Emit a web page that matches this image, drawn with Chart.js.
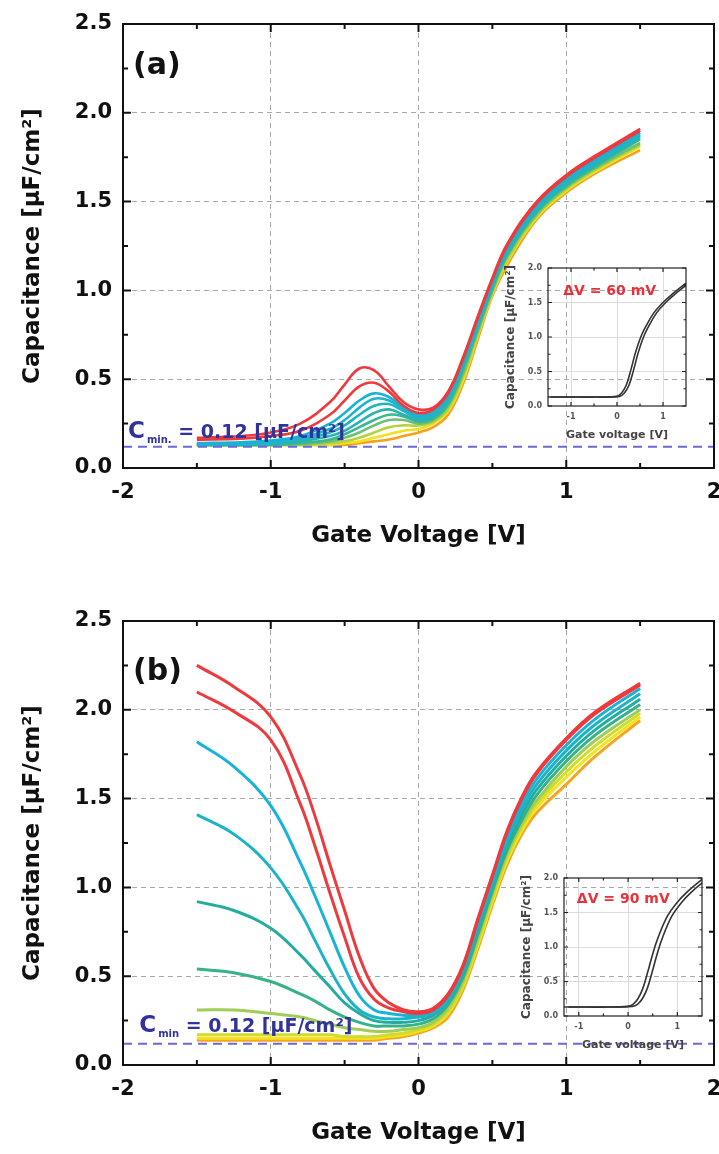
<!DOCTYPE html>
<html>
<head>
<meta charset="utf-8">
<script src="https://cdn.jsdelivr.net/npm/chart.js@4.4.1/dist/chart.umd.min.js"></script>
<style>
  html, body { margin: 0; padding: 0; background: #fff; }
  #wrap { position: relative; width: 719px; height: 1154px; overflow: hidden; background: #fff; }
  #wrap canvas { position: absolute; }
</style>
</head>
<body>
<div id="wrap">
  <canvas id="mainA" style="left:0px;top:0px" width="719" height="560"></canvas>
  <canvas id="insetA" style="left:500px;top:262px" width="195" height="190"></canvas>
  <canvas id="mainB" style="left:0px;top:597px" width="719" height="560"></canvas>
  <canvas id="insetB" style="left:516px;top:872px" width="195" height="190"></canvas>
</div>
<script>
// ── axis ticks ────────────────────────────────────────────────────────────────
const mainXTicks  = [-2, -1, 0, 1, 2];
const mainXMinor  = [-1.5, -0.5, 0.5, 1.5];
const mainYTicks  = [0, 0.5, 1.0, 1.5, 2.0, 2.5];
const mainYMinor  = [0.25, 0.75, 1.25, 1.75, 2.25];
const insetXTicks = [-1, 0, 1];
const insetXMinor = [-0.5, 0.5];
const insetYTicks = [0, 0.5, 1.0, 1.5, 2.0];
const insetYMinor = [0.25, 0.75, 1.25, 1.75];

// minimum capacitance marker [uF/cm2]
const cMin = 0.12;

// ── panel (a): gate sweep and C-V curves, top (red) to bottom (orange) ────────
const voltsA = [-1.5, -1.2, -1.0, -0.8, -0.6, -0.5, -0.4, -0.3, -0.2, -0.1, 0, 0.1, 0.2, 0.3, 0.4, 0.5, 0.6, 0.8, 1.0, 1.2, 1.5];
const capA1  = [0.17, 0.18, 0.20, 0.25, 0.37, 0.47, 0.56, 0.55, 0.46, 0.37, 0.33, 0.34, 0.43, 0.62, 0.85, 1.07, 1.26, 1.50, 1.65, 1.76, 1.91];
const capA2  = [0.16, 0.165, 0.18, 0.21, 0.30, 0.38, 0.46, 0.48, 0.43, 0.35, 0.31, 0.33, 0.42, 0.61, 0.84, 1.06, 1.25, 1.49, 1.64, 1.75, 1.90];
const capA3  = [0.14, 0.145, 0.155, 0.18, 0.25, 0.31, 0.38, 0.42, 0.40, 0.34, 0.30, 0.32, 0.41, 0.60, 0.83, 1.05, 1.24, 1.48, 1.63, 1.74, 1.89];
const capA4  = [0.135, 0.14, 0.15, 0.17, 0.22, 0.27, 0.34, 0.39, 0.38, 0.33, 0.29, 0.31, 0.40, 0.59, 0.82, 1.04, 1.23, 1.47, 1.62, 1.73, 1.88];
const capA5  = [0.13, 0.135, 0.14, 0.16, 0.20, 0.24, 0.30, 0.35, 0.36, 0.32, 0.28, 0.30, 0.39, 0.58, 0.81, 1.03, 1.22, 1.46, 1.61, 1.72, 1.87];
const capA6  = [0.13, 0.13, 0.135, 0.15, 0.18, 0.21, 0.26, 0.31, 0.33, 0.30, 0.27, 0.29, 0.38, 0.57, 0.80, 1.02, 1.21, 1.45, 1.60, 1.71, 1.86];
const capA7  = [0.13, 0.13, 0.13, 0.14, 0.16, 0.19, 0.23, 0.27, 0.30, 0.29, 0.26, 0.28, 0.36, 0.55, 0.78, 1.01, 1.20, 1.44, 1.59, 1.70, 1.85];
const capA8  = [0.13, 0.13, 0.13, 0.135, 0.15, 0.17, 0.20, 0.24, 0.27, 0.27, 0.25, 0.27, 0.35, 0.53, 0.77, 1.00, 1.19, 1.43, 1.58, 1.69, 1.83];
const capA9  = [0.13, 0.13, 0.13, 0.13, 0.14, 0.15, 0.17, 0.20, 0.23, 0.24, 0.24, 0.26, 0.33, 0.51, 0.75, 0.99, 1.17, 1.42, 1.57, 1.68, 1.82];
const capA10 = [0.13, 0.13, 0.13, 0.13, 0.13, 0.14, 0.15, 0.17, 0.19, 0.21, 0.22, 0.25, 0.32, 0.49, 0.74, 0.98, 1.16, 1.41, 1.56, 1.67, 1.81];
const capA11 = [0.13, 0.13, 0.13, 0.13, 0.13, 0.13, 0.14, 0.15, 0.16, 0.18, 0.20, 0.23, 0.30, 0.47, 0.72, 0.97, 1.14, 1.40, 1.55, 1.66, 1.79];
const colorsA = ['#ee3a3c', '#ee3a3c', '#17b2d8', '#1bb4cf', '#21b5c4', '#29b3b0', '#3ab795', '#6cc072', '#b3d33c', '#f2e21c', '#f6a020'];

// ── panel (b) ─────────────────────────────────────────────────────────────────
const voltsB = [-1.5, -1.25, -1.0, -0.8, -0.7, -0.6, -0.5, -0.4, -0.3, -0.2, -0.1, 0, 0.1, 0.2, 0.3, 0.4, 0.5, 0.6, 0.7, 0.8, 1.0, 1.2, 1.5];
const capB1  = [2.25, 2.13, 1.96, 1.63, 1.40, 1.13, 0.87, 0.61, 0.43, 0.35, 0.31, 0.30, 0.32, 0.40, 0.56, 0.82, 1.07, 1.32, 1.51, 1.65, 1.84, 1.99, 2.15];
const capB2  = [2.10, 1.99, 1.83, 1.47, 1.23, 0.97, 0.72, 0.49, 0.37, 0.32, 0.30, 0.29, 0.31, 0.39, 0.55, 0.81, 1.06, 1.31, 1.50, 1.64, 1.83, 1.98, 2.14];
const capB3  = [1.82, 1.68, 1.46, 1.14, 0.95, 0.75, 0.55, 0.39, 0.31, 0.29, 0.28, 0.28, 0.30, 0.38, 0.54, 0.79, 1.04, 1.28, 1.47, 1.61, 1.80, 1.95, 2.12];
const capB4  = [1.41, 1.30, 1.11, 0.86, 0.70, 0.54, 0.40, 0.31, 0.27, 0.26, 0.26, 0.27, 0.29, 0.37, 0.53, 0.78, 1.02, 1.26, 1.44, 1.58, 1.77, 1.92, 2.09];
const capB5  = [0.92, 0.87, 0.77, 0.62, 0.53, 0.44, 0.35, 0.29, 0.25, 0.24, 0.24, 0.25, 0.28, 0.36, 0.51, 0.76, 1.00, 1.23, 1.41, 1.55, 1.74, 1.89, 2.06];
const capB6  = [0.54, 0.52, 0.47, 0.40, 0.36, 0.31, 0.27, 0.24, 0.22, 0.22, 0.22, 0.23, 0.26, 0.34, 0.49, 0.73, 0.98, 1.21, 1.38, 1.52, 1.71, 1.86, 2.03];
const capB7  = [0.31, 0.31, 0.29, 0.27, 0.25, 0.23, 0.21, 0.20, 0.19, 0.19, 0.20, 0.21, 0.24, 0.32, 0.47, 0.71, 0.96, 1.19, 1.36, 1.49, 1.68, 1.83, 2.00];
const capB8  = [0.17, 0.17, 0.17, 0.17, 0.17, 0.17, 0.16, 0.16, 0.16, 0.17, 0.18, 0.20, 0.23, 0.30, 0.45, 0.69, 0.94, 1.17, 1.34, 1.47, 1.65, 1.80, 1.98];
const capB9  = [0.15, 0.15, 0.15, 0.15, 0.15, 0.15, 0.15, 0.15, 0.15, 0.16, 0.17, 0.19, 0.22, 0.29, 0.44, 0.67, 0.92, 1.15, 1.32, 1.45, 1.62, 1.77, 1.96];
const capB10 = [0.14, 0.14, 0.14, 0.14, 0.14, 0.14, 0.14, 0.14, 0.14, 0.15, 0.16, 0.18, 0.21, 0.27, 0.42, 0.65, 0.90, 1.13, 1.30, 1.42, 1.58, 1.74, 1.94];
const colorsB = ['#ee3a3c', '#ee3a3c', '#18b3d8', '#1db3c6', '#24ad9f', '#36b28b', '#9fcd55', '#cfdc2e', '#f4e31a', '#f6a523'];

// ── insets: forward / reverse sweeps, shifted by the hysteresis ───────────────
const insetVoltsA1 = [-1.5, -1.0, -0.5, 0, 0.1, 0.2, 0.3, 0.4, 0.5, 0.6, 0.8, 1.0, 1.2, 1.5];
const insetVoltsA2 = [-1.44, -0.94, -0.44, 0.06, 0.16, 0.26, 0.36, 0.46, 0.56, 0.66, 0.86, 1.06, 1.26, 1.56];
const insetCapA    = [0.13, 0.13, 0.13, 0.14, 0.19, 0.30, 0.52, 0.77, 0.97, 1.12, 1.35, 1.50, 1.62, 1.78];
const insetVoltsB1 = [-1.3, -1.0, -0.5, 0, 0.1, 0.2, 0.3, 0.4, 0.5, 0.6, 0.8, 1.0, 1.2, 1.5];
const insetVoltsB2 = [-1.21, -0.91, -0.41, 0.09, 0.19, 0.29, 0.39, 0.49, 0.59, 0.69, 0.89, 1.09, 1.29, 1.59];
const insetCapB    = [0.13, 0.13, 0.13, 0.14, 0.17, 0.25, 0.40, 0.64, 0.90, 1.12, 1.45, 1.65, 1.80, 1.98];

const FONT = 'DejaVu Sans';
const INK = '#111';

// frame box with inward major/minor ticks on all four sides
const frameTicks = {
  id: 'frameTicks',
  afterDatasetsDraw(chart, args, opts) {
    const { ctx, chartArea: a, scales: { x, y } } = chart;
    ctx.save();
    ctx.strokeStyle = opts.color;
    ctx.lineWidth = opts.width;
    ctx.beginPath();
    const tickX = (v, len) => {
      const px = x.getPixelForValue(v);
      ctx.moveTo(px, a.bottom); ctx.lineTo(px, a.bottom - len);
      ctx.moveTo(px, a.top);    ctx.lineTo(px, a.top + len);
    };
    const tickY = (v, len) => {
      const py = y.getPixelForValue(v);
      ctx.moveTo(a.left, py);  ctx.lineTo(a.left + len, py);
      ctx.moveTo(a.right, py); ctx.lineTo(a.right - len, py);
    };
    x.ticks.forEach(t => tickX(t.value, opts.major));
    opts.xMinor.forEach(v => tickX(v, opts.minor));
    y.ticks.forEach(t => tickY(t.value, opts.major));
    opts.yMinor.forEach(v => tickY(v, opts.minor));
    ctx.stroke();
    ctx.strokeRect(a.left, a.top, a.width, a.height);
    ctx.restore();
  }
};

function series(volts, caps, color, width) {
  return {
    data: volts.map((v, i) => ({ x: v, y: caps[i] })),
    borderColor: color,
    borderWidth: width,
    pointRadius: 0,
    showLine: true,
    tension: 0.4,
    fill: false
  };
}

// hide grid lines that would sit on the frame
const innerGrid = (min, max, color) => ctx =>
  (ctx.tick && (ctx.tick.value === min || ctx.tick.value === max)) ? 'rgba(0,0,0,0)' : color;

function drawCminNote(chart, vx, vy, sub) {
  const { ctx, scales: { x, y } } = chart;
  let px = x.getPixelForValue(vx);
  const py = y.getPixelForValue(vy);
  ctx.save();
  ctx.fillStyle = '#32329c';
  ctx.textBaseline = 'alphabetic';
  ctx.font = `bold 23px "${FONT}"`;
  ctx.fillText('C', px, py);
  px += ctx.measureText('C').width + 2;
  ctx.font = `bold 10px "${FONT}"`;
  ctx.fillText(sub, px, py + 5);
  px += ctx.measureText(sub).width;
  ctx.font = `bold 19px "${FONT}"`;
  ctx.fillText(' = ' + cMin.toFixed(2) + ' [\u03bcF/cm\u00b2]', px, py);
  ctx.restore();
}

function drawText(chart, text, vx, vy, font, color) {
  const { ctx, scales: { x, y } } = chart;
  ctx.save();
  ctx.font = font;
  ctx.fillStyle = color;
  ctx.textBaseline = 'alphabetic';
  ctx.fillText(text, x.getPixelForValue(vx), y.getPixelForValue(vy));
  ctx.restore();
}

function mainChart(id, volts, curves, colors, lineWidth, notes) {
  const datasets = [{
    data: [{ x: -2, y: cMin }, { x: 2, y: cMin }],
    borderColor: '#6a6ad6', borderWidth: 2, borderDash: [9, 6],
    pointRadius: 0, showLine: true, fill: false
  }];
  curves.forEach((c, i) => datasets.push(series(volts, c, colors[i], lineWidth)));

  return new Chart(document.getElementById(id), {
    type: 'scatter',
    data: { datasets },
    plugins: [frameTicks, { id: 'notes', afterDatasetsDraw: notes }],
    options: {
      responsive: false,
      animation: false,
      layout: { padding: { top: 24, right: 5, left: 0, bottom: 0 } },
      plugins: {
        legend: { display: false },
        tooltip: { enabled: false },
        frameTicks: { color: INK, width: 2, major: 8, minor: 5, xMinor: mainXMinor, yMinor: mainYMinor }
      },
      scales: {
        x: {
          type: 'linear', min: -2, max: 2,
          afterBuildTicks: s => { s.ticks = mainXTicks.map(v => ({ value: v })); },
          afterFit: s => { s.height = 92; s.paddingLeft = 0; s.paddingRight = 0; },
          ticks: { font: { family: FONT, size: 21, weight: 'bold' }, color: INK, padding: 12, autoSkip: false, maxRotation: 0, callback: v => String(v) },
          grid: { drawTicks: false, lineWidth: 1, color: innerGrid(-2, 2, '#a9a9a9') },
          border: { display: false, dash: [5, 4] },
          title: { display: true, text: 'Gate Voltage [V]', color: INK, font: { family: FONT, size: 23, weight: 'bold' }, padding: { top: 0, bottom: 10 } }
        },
        y: {
          type: 'linear', min: 0, max: 2.5,
          afterBuildTicks: s => { s.ticks = mainYTicks.map(v => ({ value: v })); },
          afterFit: s => { s.width = 123; s.paddingTop = 0; s.paddingBottom = 0; },
          ticks: { font: { family: FONT, size: 21, weight: 'bold' }, color: INK, padding: 11, autoSkip: false, callback: v => v.toFixed(1) },
          grid: { drawTicks: false, lineWidth: 1, color: innerGrid(0, 2.5, '#a9a9a9') },
          border: { display: false, dash: [5, 4] },
          title: { display: true, text: 'Capacitance [\u03bcF/cm\u00b2]', color: INK, font: { family: FONT, size: 23, weight: 'bold' }, padding: { top: 19, bottom: 0 } }
        }
      }
    }
  });
}

function insetChart(id, xMin, xMax, sweeps, label) {
  const datasets = sweeps.map(s => series(s.volts, s.caps, '#333', 1.6));
  return new Chart(document.getElementById(id), {
    type: 'scatter',
    data: { datasets },
    plugins: [frameTicks, { id: 'insetNote', afterDatasetsDraw: c => drawText(c, label.text, label.x, label.y, `bold 14px "${FONT}"`, '#e8313b') }],
    options: {
      responsive: false,
      animation: false,
      layout: { padding: { top: 6, right: 9, left: 0, bottom: 0 } },
      plugins: {
        legend: { display: false },
        tooltip: { enabled: false },
        frameTicks: { color: '#222', width: 1.2, major: 4, minor: 2.5, xMinor: insetXMinor, yMinor: insetYMinor }
      },
      scales: {
        x: {
          type: 'linear', min: xMin, max: xMax,
          afterBuildTicks: s => { s.ticks = insetXTicks.map(v => ({ value: v })); },
          afterFit: s => { s.height = 46; s.paddingLeft = 0; s.paddingRight = 0; },
          ticks: { font: { family: FONT, size: 8, weight: 'bold' }, color: '#555', padding: 6, autoSkip: false, maxRotation: 0, callback: v => String(v) },
          grid: { drawTicks: false, lineWidth: 1, color: '#dcdcdc' },
          border: { display: false },
          title: { display: true, text: 'Gate voltage [V]', color: '#444', font: { family: FONT, size: 11, weight: 'bold' }, padding: { top: 0, bottom: 10 } }
        },
        y: {
          type: 'linear', min: 0, max: 2.0,
          afterBuildTicks: s => { s.ticks = insetYTicks.map(v => ({ value: v })); },
          afterFit: s => { s.width = 48; s.paddingTop = 0; s.paddingBottom = 0; },
          ticks: { font: { family: FONT, size: 8, weight: 'bold' }, color: '#555', padding: 6, autoSkip: false, callback: v => v.toFixed(1) },
          grid: { drawTicks: false, lineWidth: 1, color: innerGrid(0, 2.0, '#dcdcdc') },
          border: { display: false },
          title: { display: true, text: 'Capacitance [\u03bcF/cm\u00b2]', color: '#444', font: { family: FONT, size: 12, weight: 'bold' }, padding: { top: 4, bottom: 0 } }
        }
      }
    }
  });
}

mainChart('mainA', voltsA,
  [capA1, capA2, capA3, capA4, capA5, capA6, capA7, capA8, capA9, capA10, capA11],
  colorsA, 2.6,
  chart => {
    drawCminNote(chart, -1.966, 0.169, 'min.');
    drawText(chart, '(a)', -1.932, 2.218, `bold 30px "${FONT}"`, INK);
  });

mainChart('mainB', voltsB,
  [capB1, capB2, capB3, capB4, capB5, capB6, capB7, capB8, capB9, capB10],
  colorsB, 3,
  chart => {
    drawCminNote(chart, -1.89, 0.187, 'min');
    drawText(chart, '(b)', -1.932, 2.165, `bold 30px "${FONT}"`, INK);
  });

insetChart('insetA', -1.5, 1.5,
  [{ volts: insetVoltsA1, caps: insetCapA }, { volts: insetVoltsA2, caps: insetCapA }],
  { text: '\u0394V = 60 mV', x: -1.17, y: 1.61 });

insetChart('insetB', -1.3, 1.5,
  [{ volts: insetVoltsB1, caps: insetCapB }, { volts: insetVoltsB2, caps: insetCapB }],
  { text: '\u0394V = 90 mV', x: -1.04, y: 1.64 });
</script>
</body>
</html>
